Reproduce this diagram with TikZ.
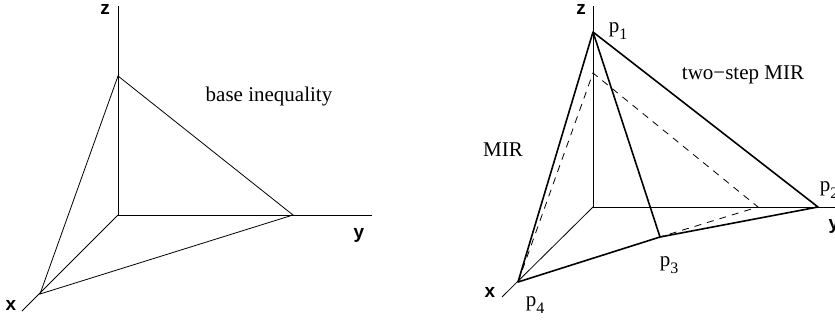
\documentclass[tikz,border=0pt]{standalone}
\usepackage{fontspec}
\setmainfont{Liberation Serif}
\newfontfamily\axfont{Liberation Sans}
\newcommand{\psub}[1]{p\raisebox{-0.3em}{\fontsize{16}{16}\selectfont #1}}
\begin{document}
\begin{tikzpicture}[x=1pt,y=-1pt,
  thin line/.style={line width=0.8pt},
  thick line/.style={line width=1.6pt},
  dash line/.style={line width=0.8pt,dash pattern=on 7pt off 6pt},
  axlabel/.style={font=\axfont\bfseries\fontsize{19}{19}\selectfont,inner sep=0pt},
  txt/.style={font=\fontsize{21}{21}\selectfont,inner sep=0pt},
  plabel/.style={font=\fontsize{21}{21}\selectfont,inner sep=0pt}]
\useasboundingbox (0,0) rectangle (835,322);
% ---------- left figure ----------
\coordinate (O) at (118,215);
\coordinate (Zt) at (118,6);
\coordinate (Yt) at (372,215);
\coordinate (Xt) at (22,311);
\coordinate (Zi) at (118,76);
\coordinate (Yi) at (293,215);
\coordinate (Xi) at (40,294);
\draw[thin line] (O) -- (Zt);
\draw[thin line] (O) -- (Yt);
\draw[thin line] (O) -- (Xt);
\draw[thin line] (Zi) -- (Yi) -- (Xi) -- cycle;
\node[axlabel] (lz) at (105,9) {z};
\node[axlabel] (ly) at (359,235) {y};
\node[axlabel] (lx) at (11,305) {x};
\node[txt] (base) at (269,96) {base inequality};
% ---------- right figure ----------
\coordinate (O2) at (593,207);
\coordinate (Zt2) at (593,6);
\coordinate (Yt2) at (840,207);
\coordinate (Xt2) at (502,297);
\coordinate (P1) at (593,32);
\coordinate (P2) at (818,207);
\coordinate (P3) at (660,237);
\coordinate (P4) at (518,282);
\coordinate (Zd) at (593,73);
\coordinate (Yd) at (758,207);
\draw[thin line] (O2) -- (Zt2);
\draw[thin line] (O2) -- (Yt2);
\draw[thin line] (O2) -- (Xt2);
\draw[dash line] (P4) -- (Zd) -- (Yd) -- (P3);
\draw[thick line,line join=round] (P1) -- (P4) -- (P3) -- (P2) -- cycle;
\draw[thick line] (P1) -- (P3);
\node[axlabel] (rz) at (581,9) {z};
\node[axlabel] (ry) at (834,226) {y};
\node[axlabel] (rx) at (490,292) {x};
\node[plabel] (lp1) at (618,31) {\psub{1}};
\node[plabel] (lp2) at (829,190) {\psub{2}};
\node[plabel] (lp3) at (669,265) {\psub{3}};
\node[plabel] (lp4) at (535,305) {\psub{4}};
\node[txt] (two) at (743,75) {two\textminus step MIR};
\node[txt] (mir) at (503,150) {MIR};
\end{tikzpicture}
\end{document}
